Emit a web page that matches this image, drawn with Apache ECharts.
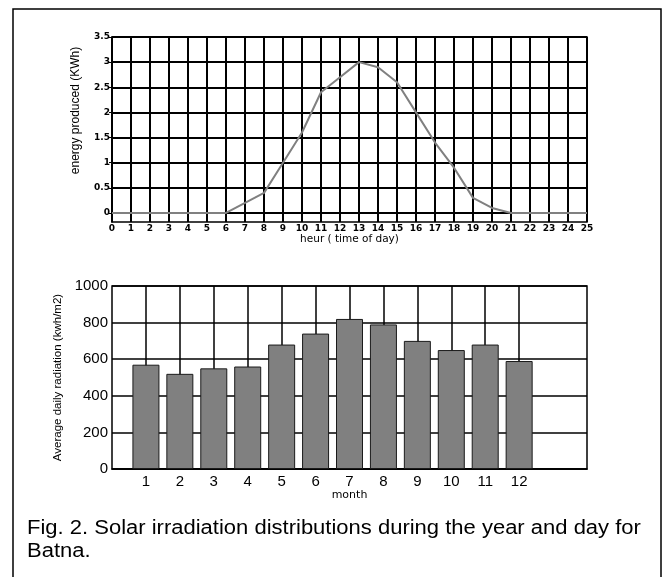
<!DOCTYPE html>
<html>
<head>
<meta charset="utf-8">
<script src="https://cdn.jsdelivr.net/npm/echarts@6/dist/echarts.min.js"></script>
<style>
  html, body { margin: 0; padding: 0; background: #fff; }
  #chart { width: 665px; height: 577px; }
</style>
</head>
<body>
<div id="chart"></div>
<script>
// hourly energy (top panel)
const hours = [0, 1, 2, 3, 4, 5, 6, 7, 8, 9, 10, 11, 12, 13, 14, 15, 16, 17, 18, 19, 20, 21, 22, 23, 24, 25]
const energy = [0, 0, 0, 0, 0, 0, 0, 0.2, 0.4, 1.0, 1.6, 2.4, 2.7, 3.0, 2.9, 2.6, 2.0, 1.4, 0.9, 0.3, 0.1, 0, 0, 0, 0, 0]
const energyTicks = [0, 0.5, 1, 1.5, 2, 2.5, 3, 3.5]

// monthly radiation (bottom panel)
const months = ['1', '2', '3', '4', '5', '6', '7', '8', '9', '10', '11', '12']
const radiation = [570, 520, 550, 560, 680, 740, 820, 790, 700, 650, 680, 590]

const chart = echarts.init(document.getElementById('chart'))

// pad categories so months sit at 1..12 on a 0..14 axis
const monthSlots = [''].concat(months, ['', ''])
const radiationSlots = ['-'].concat(radiation, ['-', '-'])
const isMonth = (i) => i >= 1 && i <= months.length

const gridLine = (w) => ({ show: true, lineStyle: { color: '#000', width: w } })
const smallBold = { color: '#000', fontFamily: 'DejaVu Sans', fontWeight: 'bold', fontSize: 9 }

chart.setOption({
  backgroundColor: '#fff',
  animation: false,
  grid: [
    { left: 112, top: 37, right: 78, bottom: 355, show: true, borderColor: '#000', borderWidth: 1.5 },
    { left: 112, top: 286, right: 78, bottom: 108, show: true, borderColor: '#000', borderWidth: 1.5 },
  ],
  xAxis: [
    {
      gridIndex: 0,
      type: 'value',
      min: 0,
      max: 25,
      interval: 1,
      name: 'heur ( time of day)',
      nameLocation: 'middle',
      nameGap: 8,
      nameTextStyle: { color: '#000', fontFamily: 'DejaVu Sans', fontSize: 10.5 },
      axisLine: { lineStyle: { color: '#000', width: 1.5 } },
      axisTick: { show: false },
      axisLabel: Object.assign({ margin: 2 }, smallBold),
      splitLine: gridLine(2),
    },
    {
      gridIndex: 1,
      type: 'category',
      boundaryGap: false,
      data: monthSlots,
      name: 'month',
      nameLocation: 'middle',
      nameGap: 16,
      nameTextStyle: { color: '#000', fontFamily: 'DejaVu Sans', fontSize: 11 },
      axisLine: { lineStyle: { color: '#000', width: 1.5 } },
      axisTick: { show: false },
      axisLabel: {
        interval: 0,
        margin: 5,
        color: '#000',
        fontFamily: 'Liberation Sans',
        fontSize: 15,
      },
      splitLine: {
        show: true,
        interval: (i) => isMonth(i),
        lineStyle: { color: '#000', width: 1.5 },
      },
    },
  ],
  yAxis: [
    {
      gridIndex: 0,
      type: 'value',
      min: -0.18,
      max: 3.5,
      name: 'energy produced (KWh)',
      nameLocation: 'middle',
      nameGap: 30,
      nameTextStyle: {
        color: '#000',
        fontFamily: 'Liberation Sans Narrow, Liberation Sans',
        fontSize: 12,
        padding: [0, 0, 0, 38],
      },
      axisLine: { lineStyle: { color: '#000', width: 1.5 } },
      axisTick: { show: true, length: 3, customValues: energyTicks, lineStyle: { color: '#000' } },
      axisLabel: Object.assign({ margin: 2, customValues: energyTicks }, smallBold),
      splitLine: gridLine(2),
    },
    {
      gridIndex: 0,
      type: 'value',
      position: 'right',
      min: -0.18,
      max: 3.5,
      axisLine: { show: false },
      axisTick: { show: true, inside: true, length: 4, customValues: energyTicks, lineStyle: { color: '#000' } },
      axisLabel: { show: false },
      splitLine: { show: false },
    },
    {
      gridIndex: 1,
      type: 'value',
      min: 0,
      max: 1000,
      interval: 200,
      name: 'Average daily radiation (kwh/m2)',
      nameLocation: 'middle',
      nameGap: 41,
      nameTextStyle: {
        color: '#000',
        fontFamily: 'Liberation Sans Narrow, Liberation Sans',
        fontSize: 11.5,
      },
      axisLine: { lineStyle: { color: '#000', width: 1.5 } },
      axisTick: { show: false },
      axisLabel: {
        margin: 4,
        color: '#000',
        fontFamily: 'Liberation Sans',
        fontSize: 15,
        formatter: (v) => String(v),
      },
      splitLine: gridLine(1.5),
    },
  ],
  series: [
    {
      name: 'energy',
      type: 'line',
      xAxisIndex: 0,
      yAxisIndex: 0,
      data: hours.map((h, i) => [h, energy[i]]),
      showSymbol: false,
      lineStyle: { color: '#808080', width: 2 },
      z: 5,
    },
    {
      name: 'radiation',
      type: 'bar',
      xAxisIndex: 1,
      yAxisIndex: 2,
      data: radiationSlots,
      barWidth: 27,
      itemStyle: { color: '#808080', borderColor: '#1a1a1a', borderWidth: 1 },
      z: 5,
    },
  ],
  graphic: [
    {
      type: 'rect',
      shape: { x: 13, y: 9, width: 648, height: 600 },
      style: { fill: 'none', stroke: '#000', lineWidth: 1.5 },
    },
    {
      type: 'text',
      x: 27,
      y: 518,
      scaleX: 1.1,
      style: {
        text: 'Fig. 2. Solar irradiation distributions during the year and day for',
        font: '20px "Liberation Sans"',
        fill: '#000',
      },
    },
    {
      type: 'text',
      x: 27,
      y: 541,
      scaleX: 1.1,
      style: {
        text: 'Batna.',
        font: '20px "Liberation Sans"',
        fill: '#000',
      },
    },
  ],
})
</script>
</body>
</html>
